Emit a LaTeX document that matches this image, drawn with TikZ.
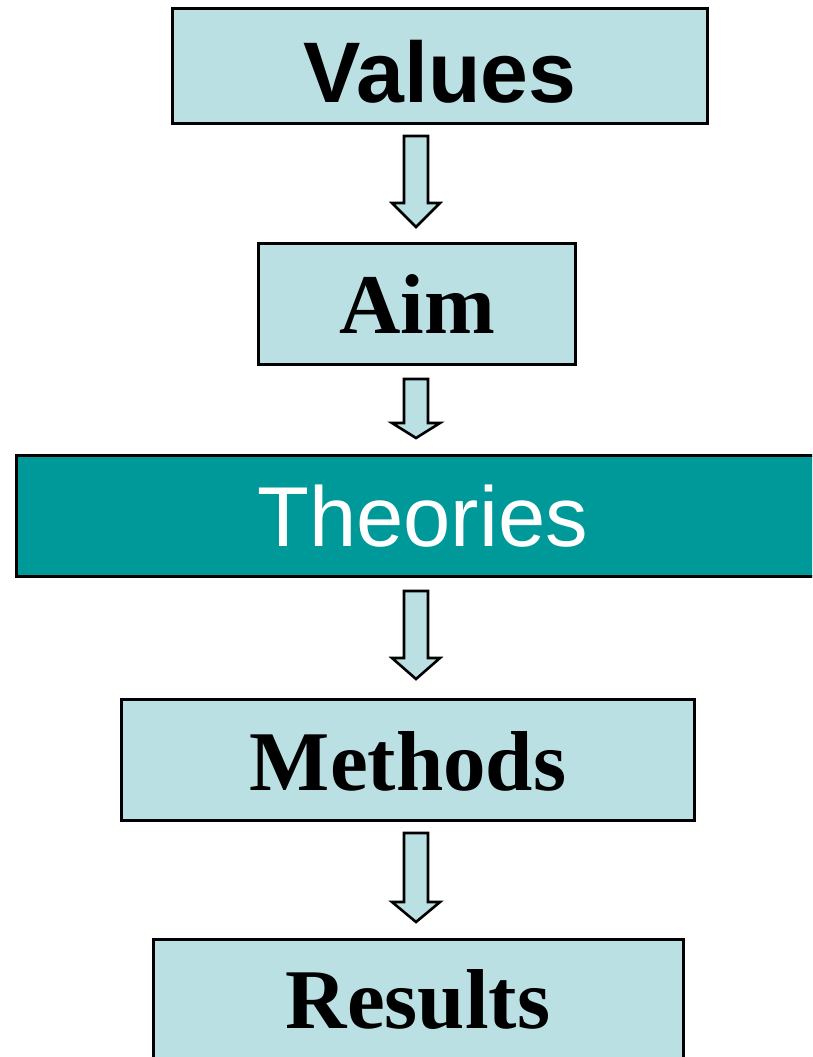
\documentclass[tikz,border=0pt]{standalone}
\usepackage{fontspec}
\setmainfont{Liberation Serif}
\setsansfont{Liberation Sans}
\definecolor{boxfill}{HTML}{BBE0E3}
\definecolor{teal}{HTML}{009999}
\begin{document}
\begin{tikzpicture}[x=1pt,y=-1pt,
  box/.style={draw=black, line width=2.8pt, fill=boxfill, inner sep=0pt},
  darkbox/.style={box, fill=teal},
  serifword/.style={anchor=base, inner sep=0pt, font=\fontsize{85}{85}\selectfont\rmfamily\bfseries},
  sansword/.style={anchor=base, inner sep=0pt, font=\fontsize{85}{85}\selectfont\sffamily},
  blockarrow/.style={draw=black, line width=2.6pt, fill=boxfill, line join=miter}]
\useasboundingbox (0,0) rectangle (812,1057);
\clip (0,0) rectangle (812,1057);

% boxes
\node[box, minimum width=535pt, minimum height=115pt] (values) at (440,66) {};
\node[box, minimum width=317pt, minimum height=121pt] (aim) at (417,304) {};
\node[darkbox, minimum width=812pt, minimum height=121pt] (theories) at (422.5,516) {};
\node[box, minimum width=573pt, minimum height=121pt] (methods) at (408,760) {};
\node[box, minimum width=530pt, minimum height=121pt] (results) at (418.5,1000) {};

% labels
\node[sansword, font=\fontsize{86}{86}\selectfont\sffamily\bfseries] (tvalues) at (440,102) {Values};
\node[serifword] (taim) at (417,333) {Aim};
\node[sansword, text=white] (ttheories) at (422.5,546) {Theories};
\node[serifword] (tmethods) at (408,790) {Methods};
\node[serifword] (tresults) at (418,1028) {Results};

% block arrows: top of shaft, base of head, tip
\foreach \t/\b/\p [count=\i] in {136/203/227, 379/423/438, 591/658/679, 833/902/922}{
  \coordinate (arrowtop\i) at (416,\t);
  \coordinate (arrowtip\i) at (416,\p);
  \draw[blockarrow] (404,\t) -- (428,\t) -- (428,\b) -- (440,\b)
    -- (arrowtip\i) -- (392,\b) -- (404,\b) -- cycle;
}
\end{tikzpicture}
\end{document}
